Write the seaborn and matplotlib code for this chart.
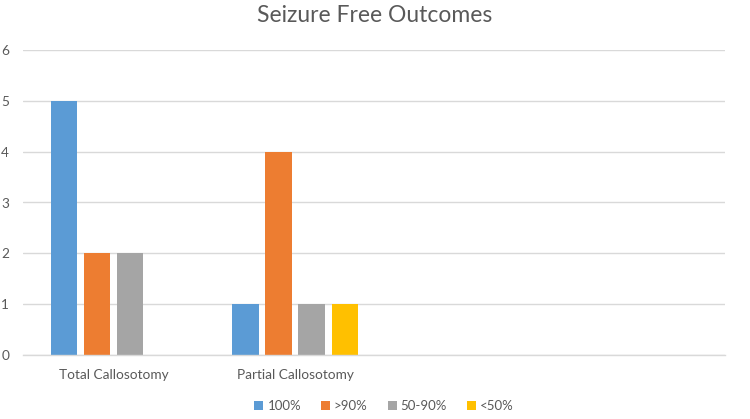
import matplotlib
matplotlib.use("Agg")
import matplotlib.pyplot as plt
import seaborn as sns
import pandas as pd
from matplotlib.patches import Patch

categories = ["Total Callosotomy", "Partial Callosotomy"]
series = ["100%", ">90%", "50-90%", "<50%"]
total_vals = [5, 2, 2, None]
partial_vals = [1, 4, 1, 1]
colors = ["#5B9BD5", "#ED7D31", "#A5A5A5", "#FFC000"]
yticks = [0, 1, 2, 3, 4, 5, 6]

rows = []
for cat, vals in zip(categories, [total_vals, partial_vals]):
    for s, v in zip(series, vals):
        if v is not None:
            rows.append({"cat": cat, "series": s, "value": v})
df = pd.DataFrame(rows)

sns.set_theme(style="white")
plt.rcParams["font.family"] = ["Lato", "DejaVu Sans"]

fig = plt.figure(figsize=(7.5, 4.19), dpi=100)
ax = fig.add_axes([23/750, (419-355)/419, (725-23)/750, (355-50)/419])

sns.barplot(data=df, x="cat", y="value", hue="series", order=categories,
            hue_order=series, palette=colors, width=0.73, gap=0.2,
            saturation=1, linewidth=0, ax=ax, legend=False, errorbar=None)

ax.set_xlim(-0.5, 3.37)
ax.set_ylim(0, 6)
ax.set_yticks(yticks)
ax.yaxis.grid(True, color="#D9D9D9", linewidth=1)
ax.set_axisbelow(True)
for sp in ["top", "right", "left"]:
    ax.spines[sp].set_visible(False)
ax.spines["bottom"].set_color("#D9D9D9")
ax.spines["bottom"].set_linewidth(1)
ax.tick_params(axis="both", length=0, colors="#595959", labelsize=9.8)
ax.tick_params(axis="y", pad=10)
ax.tick_params(axis="x", pad=10)
ax.set_xlabel("")
ax.set_ylabel("")

fig.text(0.5, 1 - 16/419, "Seizure Free Outcomes", ha="center", va="center",
         fontsize=16.5, color="#595959")

handles = [Patch(facecolor=c, edgecolor="none") for c in colors]
fig.legend(handles, series, loc="center", bbox_to_anchor=(384/750, 1 - 406/419),
           ncol=4, frameon=False, fontsize=9.5, handlelength=0.7, handleheight=0.7,
           handletextpad=0.3, columnspacing=1.5, labelcolor="#595959")

fig.savefig("out.png", dpi=100)
